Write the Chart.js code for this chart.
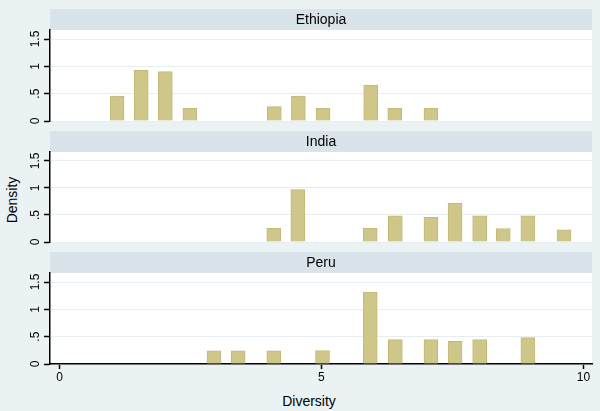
<!DOCTYPE html>
<html>
<head>
<meta charset="utf-8">
<title>Diversity by country</title>
<script src="https://cdn.jsdelivr.net/npm/chart.js@4"></script>
<style>
    body { margin: 0; background: #eaf2f3; }
    #wrap {
        position: relative; width: 600px; height: 411px; overflow: hidden;
        font-family: "Liberation Sans", Arial, sans-serif; color: #000;
    }
    #wrap canvas { position: absolute; left: 0; }
    .axis-title { position: absolute; font-size: 14px; white-space: nowrap; }
    #y-title { left: 12px; top: 200px; transform: translate(-50%, -50%) rotate(-90deg); }
    #x-title { left: 309px; top: 401px; transform: translate(-50%, -50%); }
</style>
</head>
<body>
<div id="wrap">
    <div class="axis-title" id="y-title">Density</div>
    <div class="axis-title" id="x-title">Diversity</div>
</div>
<script>
// data (bar centre on Diversity, bar height as density)
const countries = ['Ethiopia', 'India', 'Peru'];

const ethiopiaDiversity = [1.10, 1.56, 2.02, 2.49, 4.10, 4.56, 5.03, 5.94, 6.40, 7.09];
const ethiopiaDensity   = [0.458, 0.928, 0.903, 0.232, 0.262, 0.458, 0.232, 0.659, 0.232, 0.232];

const indiaDiversity = [4.09, 4.55, 5.93, 6.41, 7.09, 7.55, 8.02, 8.47, 8.94, 9.63];
const indiaDensity   = [0.255, 0.969, 0.255, 0.484, 0.455, 0.715, 0.484, 0.25, 0.484, 0.224];

const peruDiversity = [2.95, 3.41, 4.09, 5.02, 5.93, 6.41, 7.09, 7.55, 8.02, 8.94];
const peruDensity   = [0.24, 0.24, 0.24, 0.245, 1.317, 0.446, 0.446, 0.415, 0.446, 0.483];

const yTicks = [0, 0.5, 1, 1.5];
const xTicks = [0, 5, 10];

const seriesX = [ethiopiaDiversity, indiaDiversity, peruDiversity];
const seriesY = [ethiopiaDensity, indiaDensity, peruDensity];

// panel layout on the page (canvases overlap a little so the "0" labels fit)
const panelTops = [0, 121, 242];
const panelHeights = [132, 132, 169];
const panelPadTop = [30, 31, 31];
const panelPadBottom = [11, 11, 0];

Chart.defaults.font.family = '"Liberation Sans", Arial, sans-serif';
Chart.defaults.font.size = 12;
Chart.defaults.color = '#000';

// white plot region plus the grey title strip above it
const stripPlugin = {
    id: 'strip',
    beforeDraw(chart, args, opts) {
        const { ctx, chartArea: area } = chart;
        const w = area.right - area.left;
        ctx.save();
        ctx.fillStyle = '#ffffff';
        ctx.fillRect(area.left, area.top, w, area.bottom - area.top);
        ctx.fillStyle = '#d8e4ea';
        ctx.fillRect(area.left, area.top - 21, w, 21);
        ctx.fillStyle = '#000';
        ctx.font = '14px "Liberation Sans", Arial, sans-serif';
        ctx.textAlign = 'center';
        ctx.textBaseline = 'middle';
        ctx.fillText(opts.text, (area.left + area.right) / 2, area.top - 10);
        ctx.restore();
    }
};

function stataLabel(v) {
    return String(v).replace(/^0\./, '.');
}

const wrap = document.getElementById('wrap');

countries.forEach((country, index) => {
    const isLast = index === countries.length - 1;

    const canvas = document.createElement('canvas');
    canvas.width = 600;
    canvas.height = panelHeights[index];
    canvas.style.top = panelTops[index] + 'px';
    wrap.appendChild(canvas);

    const points = seriesX[index].map((x, i) => ({ x: x, y: seriesY[index][i] }));

    new Chart(canvas, {
        type: 'bar',
        data: {
            datasets: [{
                label: country,
                data: points,
                backgroundColor: '#cfc689',
                borderColor: '#c3b877',
                borderWidth: 1,
                barThickness: 14
            }]
        },
        options: {
            responsive: false,
            animation: false,
            devicePixelRatio: 1,
            layout: {
                padding: { left: 0, right: 8, top: panelPadTop[index], bottom: panelPadBottom[index] }
            },
            plugins: {
                legend: { display: false },
                tooltip: { enabled: false },
                strip: { text: country }
            },
            scales: {
                x: {
                    type: 'linear',
                    display: isLast,
                    min: -0.181,
                    max: 10.164,
                    offset: false,
                    afterBuildTicks: scale => { scale.ticks = xTicks.map(v => ({ value: v })); },
                    afterFit: scale => {
                        scale.height = isLast ? 47 : 0;
                        scale.paddingLeft = 0;
                        scale.paddingRight = 0;
                    },
                    grid: {
                        offset: false,
                        drawOnChartArea: false,
                        tickLength: 5,
                        tickColor: '#000',
                        tickWidth: 1.5
                    },
                    border: { display: true, color: '#000', width: 1.5 },
                    ticks: { padding: 1, maxRotation: 0, autoSkip: false, font: { size: 12 } }
                },
                y: {
                    min: 0,
                    max: 1.665,
                    afterBuildTicks: scale => { scale.ticks = yTicks.map(v => ({ value: v })); },
                    afterFit: scale => {
                        scale.width = 50;
                        scale.paddingTop = 0;
                        scale.paddingBottom = 0;
                    },
                    grid: {
                        color: '#e6eef1',
                        lineWidth: 1,
                        tickLength: 6,
                        tickColor: '#000',
                        tickWidth: 1.5
                    },
                    border: { display: true, color: '#000', width: 1.5 },
                    ticks: {
                        callback: v => stataLabel(v),
                        minRotation: 90,
                        maxRotation: 90,
                        crossAlign: 'center',
                        padding: 0,
                        autoSkip: false,
                        font: { size: 12 }
                    }
                }
            }
        },
        plugins: [stripPlugin]
    });
});
</script>
</body>
</html>
